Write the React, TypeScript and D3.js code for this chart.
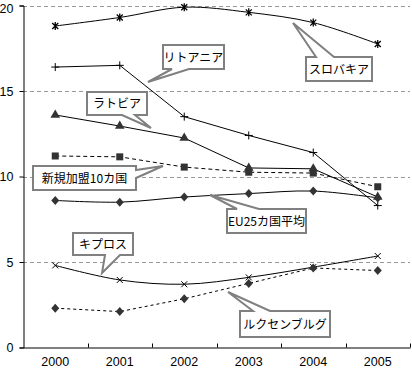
import React, { useRef, useEffect } from 'react';
import * as d3 from 'd3';

// categories
const years = ['2000', '2001', '2002', '2003', '2004', '2005'];
const yTicks = [0, 5, 10, 15, 20];

// series values
const slovakia = [18.8, 19.3, 19.9, 19.6, 19.0, 17.75];
const lithuania = [16.4, 16.5, 13.5, 12.4, 11.4, 8.3];
const latvia = [13.6, 12.95, 12.25, 10.5, 10.45, 8.8];
const newMembers = [11.2, 11.15, 10.55, 10.25, 10.2, 9.4];
const eu25 = [8.6, 8.5, 8.8, 9.0, 9.15, 8.75];
const cyprus = [4.8, 3.95, 3.7, 4.1, 4.7, 5.35];
const luxembourg = [2.3, 2.1, 2.85, 3.75, 4.65, 4.5];

const series = [
  { name: 'スロバキア', values: slovakia, marker: 'star', dash: null, smooth: true },
  { name: 'リトアニア', values: lithuania, marker: 'plus', dash: null, smooth: false },
  { name: 'ラトビア', values: latvia, marker: 'triangle', dash: null, smooth: false },
  { name: '新規加盟10カ国', values: newMembers, marker: 'square', dash: '4,3', smooth: false },
  { name: 'EU25カ国平均', values: eu25, marker: 'diamond', dash: null, smooth: true },
  { name: 'キプロス', values: cyprus, marker: 'cross', dash: null, smooth: true },
  { name: 'ルクセンブルグ', values: luxembourg, marker: 'diamond', dash: '3,3', smooth: false },
];

// callout boxes: box, side the tail leaves from, tail base, tail tip
const callouts = [
  { text: 'リトアニア', x: 163, y: 45, w: 61, h: 24, side: 'bottom', b1: 172, b2: 189, tip: [148, 82] },
  { text: 'ラトビア', x: 87, y: 92, w: 60, h: 23, side: 'bottom', b1: 122, b2: 135, tip: [151, 128] },
  { text: 'スロバキア', x: 306, y: 57, w: 66, h: 24, side: 'top', b1: 316, b2: 334, tip: [293, 23] },
  { text: '新規加盟10カ国', x: 33, y: 166, w: 103, h: 24, side: 'right', b1: 170, b2: 178, tip: [163, 166] },
  { text: 'EU25カ国平均', x: 227, y: 209, w: 79, h: 24, side: 'top', b1: 237, b2: 259, tip: [210, 195] },
  { text: 'キプロス', x: 73, y: 233, w: 60, h: 22, side: 'bottom', b1: 105, b2: 120, tip: [102, 273] },
  { text: 'ルクセンブルグ', x: 240, y: 311, w: 90, h: 26, side: 'top', b1: 253, b2: 270, tip: [228, 292] },
];

const calloutPath = (c) => {
  const { x, y, w, h, side, b1, b2, tip } = c;
  let pts;
  if (side === 'bottom') {
    pts = [[x, y], [x + w, y], [x + w, y + h], [b2, y + h], tip, [b1, y + h], [x, y + h]];
  } else if (side === 'top') {
    pts = [[x, y], [b1, y], tip, [b2, y], [x + w, y], [x + w, y + h], [x, y + h]];
  } else {
    pts = [[x, y], [x + w, y], [x + w, b1], tip, [x + w, b2], [x + w, y + h], [x, y + h]];
  }
  return 'M' + pts.map(p => p.join(',')).join('L') + 'Z';
};

const App = () => {
  const svgRef = useRef(null);

  useEffect(() => {
    const svg = d3.select(svgRef.current);
    svg.selectAll('*').remove();

    const width = 412;
    const height = 369;
    const left = 23, right = 410, top = 5.5, bottom = 347.5;

    const x = d3.scaleBand().domain(years).range([left, right]);
    const cx = (i) => x(years[i]) + x.bandwidth() / 2;
    const y = d3.scaleLinear().domain([0, 20]).range([bottom, top]);

    const font = '"Liberation Sans", Arial, sans-serif';
    const jpFont = '"Noto Sans CJK JP", sans-serif';

    svg.attr('width', width).attr('height', height);
    svg.append('rect').attr('width', width).attr('height', height).attr('fill', '#fff');

    // gridlines
    svg.append('g')
      .selectAll('line')
      .data(yTicks.filter(t => t > 0))
      .enter()
      .append('line')
      .attr('x1', left).attr('x2', right)
      .attr('y1', d => Math.round(y(d)) + 0.5).attr('y2', d => Math.round(y(d)) + 0.5)
      .attr('stroke', '#999').attr('stroke-dasharray', '4,3');

    // y axis
    const yAxis = d3.axisLeft(y).tickValues(yTicks).tickSize(4).tickPadding(6);
    const gy = svg.append('g').attr('transform', `translate(${left + 0.5},0)`).call(yAxis);
    gy.select('.domain').attr('stroke', '#000');
    gy.selectAll('text').attr('font-family', font).attr('font-size', 12.5).attr('fill', '#000');
    // keep the top label inside the picture
    gy.selectAll('.tick text').filter(d => d === 20).attr('dy', '0.55em');

    // x axis
    const xAxis = d3.axisBottom(x).tickSizeInner(-4).tickSizeOuter(0).tickFormat(() => '');
    const gx = svg.append('g').attr('transform', `translate(0,${bottom})`).call(xAxis);
    gx.select('.domain').attr('stroke', '#000');
    // tick marks at band edges instead of centres
    gx.selectAll('.tick').remove();
    gx.selectAll('.edge')
      .data(years.slice(1).concat(['end']))
      .enter()
      .append('line')
      .attr('x1', (d, i) => Math.round(x(years[0]) + x.bandwidth() * (i + 1)) + 0.5)
      .attr('x2', (d, i) => Math.round(x(years[0]) + x.bandwidth() * (i + 1)) + 0.5)
      .attr('y1', 0).attr('y2', -4)
      .attr('stroke', '#000');

    svg.append('g')
      .selectAll('text')
      .data(years)
      .enter()
      .append('text')
      .attr('x', (d, i) => cx(i))
      .attr('y', 366)
      .attr('text-anchor', 'middle')
      .attr('font-family', font)
      .attr('font-size', 12.5)
      .text(d => d);

    // lines
    const lineGen = (smooth) => d3.line()
      .x((d, i) => cx(i))
      .y(d => y(d))
      .curve(smooth ? d3.curveCatmullRom.alpha(0.5) : d3.curveLinear);

    series.forEach(s => {
      svg.append('path')
        .datum(s.values)
        .attr('d', lineGen(s.smooth))
        .attr('fill', 'none')
        .attr('stroke', '#000')
        .attr('stroke-width', 1)
        .attr('stroke-dasharray', s.dash);
    });

    // markers
    const markerColor = '#333';
    series.forEach(s => {
      const g = svg.append('g');
      s.values.forEach((v, i) => {
        const px = cx(i), py = y(v);
        if (s.marker === 'triangle') {
          g.append('path').attr('d', d3.symbol(d3.symbolTriangle, 40)()).attr('transform', `translate(${px},${py})`).attr('fill', markerColor);
        } else if (s.marker === 'square') {
          g.append('rect').attr('x', px - 3.5).attr('y', py - 3.5).attr('width', 7).attr('height', 7).attr('fill', markerColor);
        } else if (s.marker === 'diamond') {
          g.append('path').attr('d', `M${px},${py - 4.5}L${px + 4},${py}L${px},${py + 4.5}L${px - 4},${py}Z`).attr('fill', markerColor);
        } else if (s.marker === 'plus') {
          g.append('path').attr('d', `M${px - 4},${py}H${px + 4}M${px},${py - 4}V${py + 4}`).attr('stroke', '#000');
        } else if (s.marker === 'cross') {
          g.append('path').attr('d', `M${px - 3},${py - 3}L${px + 3},${py + 3}M${px + 3},${py - 3}L${px - 3},${py + 3}`).attr('stroke', '#000');
        } else if (s.marker === 'star') {
          g.append('path').attr('d', `M${px - 3},${py - 3}L${px + 3},${py + 3}M${px + 3},${py - 3}L${px - 3},${py + 3}M${px},${py - 4}V${py + 4}`).attr('stroke', '#000').attr('stroke-width', 1.3);
        }
      });
    });

    // callouts
    const cg = svg.append('g');
    callouts.forEach(c => {
      cg.append('path')
        .attr('d', calloutPath(c))
        .attr('fill', '#fff')
        .attr('stroke', '#808080')
        .attr('stroke-width', 2)
        .attr('stroke-linejoin', 'miter');
      cg.append('text')
        .attr('x', c.x + c.w / 2)
        .attr('y', c.y + c.h / 2 + 4.5)
        .attr('text-anchor', 'middle')
        .attr('font-family', jpFont)
        .attr('font-size', 12)
        .attr('fill', '#000')
        .text(c.text);
    });
  }, []);

  return (
    <div style={{ position: 'absolute', left: 0, top: 0 }}>
      <svg ref={svgRef} width="412" height="369" style={{ display: 'block' }}></svg>
    </div>
  );
};

export default App;
